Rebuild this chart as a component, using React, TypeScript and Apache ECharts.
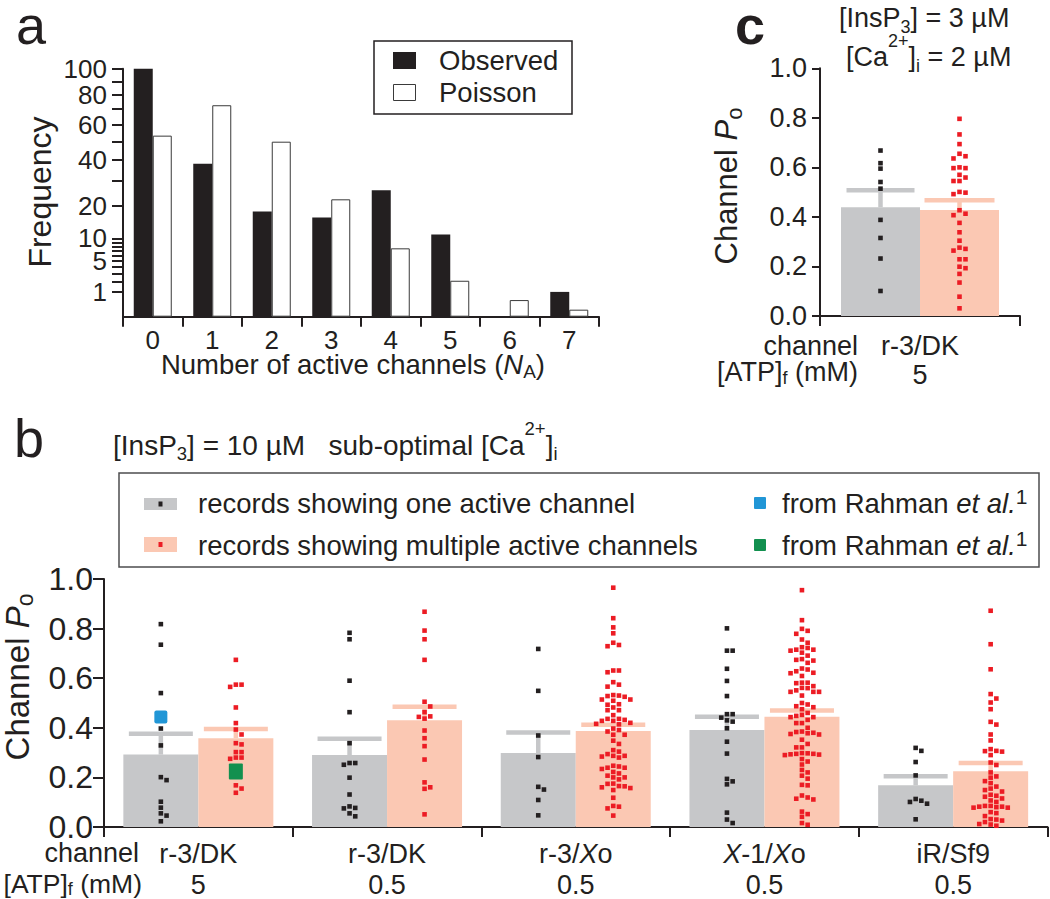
import React, { useEffect, useRef } from 'react';
import * as echarts from 'echarts';

const INK = '#231f20';
const FONT = '"Liberation Sans", Arial, Helvetica, sans-serif';
const GREY = '#c6c7c9';
const PINK = '#fbc8b3';
const RED = '#ec1c24';
const BLUE = '#2196d6';
const GREEN = '#12904f';

// ---------- Panel a ----------
const activeChannels = ['0', '1', '2', '3', '4', '5', '6', '7'];
const observedFreq = [100, 38, 18, 16, 26, 11, 0, 1];
const poissonFreq = [53.3, 72.7, 49.8, 22.4, 7.6, 2.1, 0.45, 0.08];
const freqLabelValues = [0, 1, 5, 10, 20, 40, 60, 80, 100];
const freqTickValues = [0, 1, 2, 3, 4, 5, 6, 7, 8, 9, 10, 20, 30, 40, 50, 60, 70, 80, 90, 100];

// ---------- Panel b ----------
const channelsB = ['r-3/DK', 'r-3/DK', 'r-3/Xo', 'X-1/Xo', 'iR/Sf9'];
const atpB = ['5', '0.5', '0.5', '0.5', '0.5'];
const oneMeanB = [0.292, 0.29, 0.298, 0.391, 0.168];
const oneSemB = [0.084, 0.066, 0.083, 0.054, 0.037];
const multiMeanB = [0.358, 0.43, 0.387, 0.445, 0.225];
const multiSemB = [0.037, 0.055, 0.025, 0.025, 0.033];

const oneDotsB1 = [0.818, 0.735, 0.54, 0.397, 0.329, 0.201, 0.189, 0.102, 0.078, 0.055, 0.046, 0.023];
const oneDotsB2 = [0.783, 0.757, 0.59, 0.463, 0.338, 0.258, 0.251, 0.258, 0.199, 0.131, 0.077, 0.055, 0.043, 0.075, 0.083];
const oneDotsB3 = [0.718, 0.549, 0.369, 0.282, 0.162, 0.151, 0.109, 0.047];
const oneDotsB4 = [0.801, 0.711, 0.711, 0.638, 0.589, 0.528, 0.455, 0.441, 0.425, 0.43, 0.455, 0.398, 0.344, 0.296, 0.184, 0.172, 0.194, 0.058, 0.03, 0.016];
const oneDotsB5 = [0.319, 0.307, 0.262, 0.208, 0.113, 0.101, 0.094, 0.106, 0.031];

const multiDotsB1 = [0.674, 0.574, 0.565, 0.574, 0.482, 0.419, 0.393, 0.373, 0.338, 0.333, 0.302, 0.28, 0.275, 0.28, 0.302, 0.211, 0.168, 0.155, 0.138];
const multiDotsB2 = [0.868, 0.792, 0.757, 0.674, 0.505, 0.486, 0.463, 0.444, 0.437, 0.446, 0.389, 0.358, 0.326, 0.272, 0.18, 0.16, 0.154, 0.051];
const multiDotsB3 = [0.965, 0.842, 0.805, 0.781, 0.734, 0.729, 0.743, 0.631, 0.624, 0.631, 0.574, 0.566, 0.584, 0.528, 0.514, 0.509, 0.532, 0.514, 0.525, 0.53, 0.495, 0.493, 0.482, 0.471, 0.471, 0.451, 0.436, 0.436, 0.432, 0.428, 0.42, 0.414, 0.416, 0.428, 0.397, 0.385, 0.372, 0.372, 0.391, 0.348, 0.335, 0.304, 0.287, 0.284, 0.28, 0.287, 0.294, 0.31, 0.244, 0.239, 0.234, 0.239, 0.247, 0.216, 0.2, 0.192, 0.2, 0.207, 0.222, 0.175, 0.165, 0.16, 0.149, 0.157, 0.164, 0.174, 0.118, 0.085, 0.075, 0.082, 0.046];
const multiDotsB4 = [0.955, 0.834, 0.791, 0.779, 0.799, 0.756, 0.743, 0.722, 0.715, 0.711, 0.715, 0.725, 0.703, 0.691, 0.674, 0.662, 0.671, 0.677, 0.639, 0.635, 0.628, 0.62, 0.609, 0.622, 0.582, 0.582, 0.58, 0.568, 0.56, 0.545, 0.545, 0.551, 0.561, 0.545, 0.53, 0.494, 0.483, 0.475, 0.487, 0.5, 0.46, 0.448, 0.443, 0.443, 0.452, 0.419, 0.419, 0.432, 0.4, 0.385, 0.38, 0.375, 0.373, 0.378, 0.383, 0.352, 0.335, 0.321, 0.321, 0.298, 0.295, 0.292, 0.295, 0.297, 0.29, 0.293, 0.264, 0.274, 0.252, 0.23, 0.22, 0.207, 0.195, 0.17, 0.168, 0.127, 0.114, 0.111, 0.119, 0.052, 0.041, 0.062, 0.016, 0.009];
const multiDotsB5 = [0.872, 0.737, 0.636, 0.536, 0.518, 0.502, 0.475, 0.424, 0.413, 0.373, 0.349, 0.314, 0.307, 0.304, 0.306, 0.29, 0.26, 0.25, 0.22, 0.204, 0.199, 0.177, 0.185, 0.163, 0.149, 0.143, 0.155, 0.126, 0.115, 0.101, 0.107, 0.122, 0.13, 0.082, 0.078, 0.085, 0.08, 0.078, 0.082, 0.085, 0.056, 0.044, 0.06, 0.03, 0.02, 0.01, 0.005, 0.012, 0.026, 0.032];

const rahmanBlue = 0.444; // group 1, one active channel
const rahmanGreen = 0.224; // group 1, multiple active channels

// ---------- Panel c ----------
const channelsC = ['r-3/DK'];
const atpC = ['5'];
const oneMeanC = [0.439];
const oneSemC = [0.069];
const multiMeanC = [0.428];
const multiSemC = [0.039];
const oneDotsC = [0.668, 0.617, 0.595, 0.541, 0.514, 0.388, 0.315, 0.232, 0.101];
const multiDotsC = [0.796, 0.733, 0.694, 0.645, 0.636, 0.655, 0.597, 0.597, 0.6, 0.57, 0.559, 0.545, 0.545, 0.498, 0.492, 0.501, 0.427, 0.413, 0.407, 0.376, 0.338, 0.304, 0.271, 0.264, 0.276, 0.229, 0.229, 0.199, 0.193, 0.17, 0.135, 0.078, 0.031];

// ---------- layout ----------
const GRID_A = { left: 123, top: 68.7, width: 476, height: 248 };
const GRID_B = { left: 104, top: 579, width: 943.5, height: 248 };
const GRID_C = { left: 820, top: 68.3, width: 200, height: 247.7 };
const BAR_A = 19;
const BAR_B = 75;
const BAR_C = 79;
const DOT = 4.6;

// beeswarm layout (pixel offsets) computed from values
function swarm(values: number[], pxPerUnit: number, step: number, minDy: number): number[] {
  const order = values.map((_, i) => i).sort((a, b) => values[b] - values[a]);
  const placed: { x: number; y: number }[] = [];
  const out = new Array(values.length).fill(0);
  const cands = [0];
  for (let j = 1; j < 30; j++) cands.push(j * step, -j * step);
  for (const i of order) {
    const y = values[i] * pxPerUnit;
    for (const x of cands) {
      const hit = placed.some((p) => Math.abs(p.y - y) < minDy && Math.abs(p.x - x) < step * 0.98);
      if (!hit) {
        out[i] = x;
        placed.push({ x, y });
        break;
      }
    }
  }
  return out;
}

function dotData(groups: number[][], side: number, pxPerUnit: number, step: number) {
  const res: number[][] = [];
  groups.forEach((vals, g) => {
    const offs = swarm(vals, pxPerUnit, step, 5);
    vals.forEach((v, i) => res.push([g, v, offs[i], side, DOT, DOT]));
  });
  return res;
}

const markRender = (barW: number, color: string, r = 0) => (params: any, api: any) => {
  const p = api.coord([api.value(0), api.value(1)]);
  const cx = p[0] + (api.value(3) * barW) / 2 + api.value(2);
  const w = api.value(4);
  const h = api.value(5);
  return {
    type: 'rect',
    shape: { x: cx - w / 2, y: p[1] - h / 2, width: w, height: h, r },
    style: { fill: color },
  };
};

const errRender = (barW: number, capW: number, color: string) => (params: any, api: any) => {
  const p0 = api.coord([api.value(0), api.value(1)]);
  const p1 = api.coord([api.value(0), api.value(2)]);
  const cx = p0[0] + (api.value(3) * barW) / 2;
  return {
    type: 'group',
    children: [
      { type: 'line', shape: { x1: cx, y1: p0[1], x2: cx, y2: p1[1] }, style: { stroke: color, lineWidth: 4.5 } },
      { type: 'line', shape: { x1: cx - capW / 2, y1: p1[1], x2: cx + capW / 2, y2: p1[1] }, style: { stroke: color, lineWidth: 4.5 } },
    ],
  };
};

// rich styles for graphic texts (zrender style -> fill)
function gRich(fs: number, H: number, subSize: number, subDrop: number, supSize: number, supRise: number) {
  const base = { fontSize: fs, fontFamily: FONT, fill: INK, lineHeight: H };
  return {
    n: base,
    i: { ...base, fontStyle: 'italic' },
    sub: {
      fontSize: subSize, fontFamily: FONT, fill: INK, verticalAlign: 'bottom',
      padding: [0, 0, Math.max(0, H / 2 - subSize / 2 - subDrop), 0],
    },
    sup: {
      fontSize: supSize, fontFamily: FONT, fill: INK, verticalAlign: 'top',
      padding: [Math.max(0, H / 2 - supSize / 2 - supRise), 0, 0, 0],
    },
  };
}

function T(x: number, y: number, text: string, rich: any, opts: any = {}) {
  return {
    type: 'text', x, y, rotation: opts.rot || 0, silent: true, z: 10,
    style: {
      text, rich, fontFamily: FONT, fontSize: opts.fs || 27, fill: INK,
      fontWeight: opts.bold ? 'bold' : 'normal',
      align: opts.align || 'left', verticalAlign: 'middle',
    },
  };
}

function axisRich(fs: number, lh: number) {
  const b = { fontSize: fs, fontFamily: FONT, color: INK, lineHeight: lh };
  return { n: b, i: { ...b, fontStyle: 'italic' } };
}

const fmtChannel = (c: string) => '{n|' + c.split('X').join('}{i|X}{n|') + '}';

function buildOption() {
  const line = { color: INK, width: 2 };
  const pxB = GRID_B.height;
  const pxC = GRID_C.height;
  const oneB = [oneDotsB1, oneDotsB2, oneDotsB3, oneDotsB4, oneDotsB5];
  const multiB = [multiDotsB1, multiDotsB2, multiDotsB3, multiDotsB4, multiDotsB5];
  const keysB = channelsB.map((c, i) => c + ' ' + atpB[i]);
  const keysC = channelsC.map((c, i) => c + ' ' + atpC[i]);

  const titleRichC = gRich(27, 51, 18, 9, 18, 16.5);
  const titleRichB = gRich(28, 52, 18.5, 9, 18.5, 16.5);
  const labelRich = gRich(27, 30, 18, 6, 18, 12);
  const labelRichSm = gRich(26.5, 28, 18, 5, 18, 12);
  const legRich = gRich(27.5, 36, 22, 6, 21, 7);
  const poRichB = gRich(33, 44, 23, 8, 20, 12);
  const poRichC = gRich(31, 42, 22, 8, 20, 12);
  const nRich = gRich(27.5, 34, 19, 7, 18, 12);
  const bigRich = { n: { fontSize: 54, fontFamily: FONT, fill: INK, lineHeight: 40 } };
  const bigRichBold = { n: { fontSize: 54, fontFamily: FONT, fill: INK, fontWeight: 'bold', lineHeight: 40 } };

  const valueAxisCommon = {
    type: 'value', min: 0, max: 1, interval: 0.2,
    axisLine: { show: true, lineStyle: line },
    splitLine: { show: false },
  };

  return {
    animation: false,
    backgroundColor: '#ffffff',
    grid: [GRID_A, GRID_B, GRID_C],
    xAxis: [
      {
        gridIndex: 0, type: 'category', data: activeChannels,
        axisLine: { lineStyle: line },
        axisTick: { show: true, interval: 0, length: 10, lineStyle: line },
        axisLabel: { interval: 0, fontSize: 26, lineHeight: 20, fontFamily: FONT, color: INK, margin: 13 },
        splitLine: { show: false },
      },
      {
        gridIndex: 1, type: 'category', data: keysB,
        axisLine: { lineStyle: line },
        axisTick: { show: true, interval: 0, length: 10, lineStyle: line },
        axisLabel: {
          interval: 0, margin: 11,
          formatter: (_v: string, i: number) => fmtChannel(channelsB[i]) + '\n{n|' + atpB[i] + '}',
          rich: axisRich(27, 31),
        },
        splitLine: { show: false },
      },
      {
        gridIndex: 2, type: 'category', data: keysC,
        axisLine: { lineStyle: line },
        axisTick: { show: true, interval: 0, length: 10, lineStyle: line },
        axisLabel: {
          interval: 0, margin: 15,
          formatter: (_v: string, i: number) => fmtChannel(channelsC[i]) + '\n{n|' + atpC[i] + '}',
          rich: axisRich(27, 29),
        },
        splitLine: { show: false },
      },
    ],
    yAxis: [
      {
        gridIndex: 0, type: 'value', min: 0, max: 10,
        axisLine: { show: true, lineStyle: line },
        axisTick: { show: true, length: 11, lineStyle: line, customValues: freqTickValues.map(Math.sqrt) },
        axisLabel: {
          customValues: freqLabelValues.map(Math.sqrt),
          formatter: (v: number) => String(Math.round(v * v)),
          fontSize: 26, fontFamily: FONT, color: INK, margin: 16,
        },
        splitLine: { show: false },
      },
      {
        ...valueAxisCommon, gridIndex: 1,
        axisTick: { show: true, length: 11, lineStyle: line },
        axisLabel: { formatter: (v: number) => v.toFixed(1), fontSize: 32, fontFamily: FONT, color: INK, margin: 11 },
      },
      {
        ...valueAxisCommon, gridIndex: 2,
        axisTick: { show: true, length: 8, lineStyle: line },
        axisLabel: { formatter: (v: number) => v.toFixed(1), fontSize: 27, fontFamily: FONT, color: INK, margin: 13 },
      },
    ],
    series: [
      // panel a
      {
        type: 'bar', xAxisIndex: 0, yAxisIndex: 0, name: 'Observed',
        data: observedFreq.map(Math.sqrt), barWidth: BAR_A, barGap: '0%',
        itemStyle: { color: INK },
      },
      {
        type: 'bar', xAxisIndex: 0, yAxisIndex: 0, name: 'Poisson',
        data: poissonFreq.map(Math.sqrt), barWidth: BAR_A, barGap: '0%',
        itemStyle: { color: '#ffffff', borderColor: '#3a3a3a', borderWidth: 1 },
      },
      // panel b bars
      {
        type: 'bar', xAxisIndex: 1, yAxisIndex: 1, data: oneMeanB, barWidth: BAR_B, barGap: '0%',
        itemStyle: { color: GREY }, z: 2,
      },
      {
        type: 'bar', xAxisIndex: 1, yAxisIndex: 1, data: multiMeanB, barWidth: BAR_B, barGap: '0%',
        itemStyle: { color: PINK }, z: 2,
      },
      {
        type: 'custom', xAxisIndex: 1, yAxisIndex: 1, z: 3, clip: false,
        renderItem: errRender(BAR_B, 64, GREY),
        data: oneMeanB.map((m, i) => [i, m, m + oneSemB[i], -1]),
      },
      {
        type: 'custom', xAxisIndex: 1, yAxisIndex: 1, z: 3, clip: false,
        renderItem: errRender(BAR_B, 64, PINK),
        data: multiMeanB.map((m, i) => [i, m, m + multiSemB[i], 1]),
      },
      {
        type: 'custom', xAxisIndex: 1, yAxisIndex: 1, z: 4, clip: false,
        renderItem: markRender(BAR_B, INK),
        data: dotData(oneB, -1, pxB, 5.7),
      },
      {
        type: 'custom', xAxisIndex: 1, yAxisIndex: 1, z: 4, clip: false,
        renderItem: markRender(BAR_B, RED),
        data: dotData(multiB, 1, pxB, 5.7),
      },
      {
        type: 'custom', xAxisIndex: 1, yAxisIndex: 1, z: 5, clip: false,
        renderItem: markRender(BAR_B, BLUE, 2),
        data: [[0, rahmanBlue, 0, -1, 13, 13]],
      },
      {
        type: 'custom', xAxisIndex: 1, yAxisIndex: 1, z: 5, clip: false,
        renderItem: markRender(BAR_B, GREEN, 1),
        data: [[0, rahmanGreen, 0, 1, 14, 16]],
      },
      // panel c
      {
        type: 'bar', xAxisIndex: 2, yAxisIndex: 2, data: oneMeanC, barWidth: BAR_C, barGap: '0%',
        itemStyle: { color: GREY }, z: 2,
      },
      {
        type: 'bar', xAxisIndex: 2, yAxisIndex: 2, data: multiMeanC, barWidth: BAR_C, barGap: '0%',
        itemStyle: { color: PINK }, z: 2,
      },
      {
        type: 'custom', xAxisIndex: 2, yAxisIndex: 2, z: 3, clip: false,
        renderItem: errRender(BAR_C, 68, GREY),
        data: oneMeanC.map((m, i) => [i, m, m + oneSemC[i], -1]),
      },
      {
        type: 'custom', xAxisIndex: 2, yAxisIndex: 2, z: 3, clip: false,
        renderItem: errRender(BAR_C, 70, PINK),
        data: multiMeanC.map((m, i) => [i, m, m + multiSemC[i], 1]),
      },
      {
        type: 'custom', xAxisIndex: 2, yAxisIndex: 2, z: 4, clip: false,
        renderItem: markRender(BAR_C, INK),
        data: dotData([oneDotsC], -1, pxC, 6),
      },
      {
        type: 'custom', xAxisIndex: 2, yAxisIndex: 2, z: 4, clip: false,
        renderItem: markRender(BAR_C, RED),
        data: dotData([multiDotsC], 1, pxC, 6),
      },
    ],
    graphic: [
      // panel letters
      T(16, 25, '{n|a}', bigRich),
      T(14, 438, '{n|b}', bigRich),
      T(735, 25, '{n|c}', bigRichBold),
      // panel a legend
      { type: 'rect', shape: { x: 374, y: 41, width: 198, height: 73 }, style: { fill: 'none', stroke: INK, lineWidth: 1.5 }, silent: true },
      { type: 'rect', shape: { x: 393, y: 52, width: 23, height: 17 }, style: { fill: INK }, silent: true },
      { type: 'rect', shape: { x: 393.5, y: 84.5, width: 22, height: 16 }, style: { fill: '#fff', stroke: '#3a3a3a', lineWidth: 1 }, silent: true },
      T(439, 60, '{n|Observed}', legRich),
      T(439, 92, '{n|Poisson}', legRich),
      // panel a axis names
      T(40, 192, '{n|Frequency}', { n: { fontSize: 32, fontFamily: FONT, fill: INK } }, { rot: Math.PI / 2, align: 'center' }),
      T(353, 364, '{n|Number of active channels (}{i|N}{sub|A}{n|)}', nRich, { align: 'center' }),
      // panel c titles & names
      T(839, 18, '{n|[InsP}{sub|3}{n|] = 3 µM}', titleRichC),
      T(846, 57, '{n|[Ca}{sup|2+}{n|]}{sub|i}{n| = 2 µM}', titleRichC),
      T(726, 186, '{n|Channel }{i|P}{sub|o}', poRichC, { rot: Math.PI / 2, align: 'center' }),
      T(858, 346, '{n|channel}', labelRich, { align: 'right' }),
      T(858, 372, '{n|[ATP]}{sub|f}{n| (mM)}', labelRich, { align: 'right' }),
      // panel b title
      T(113, 445, '{n|[InsP}{sub|3}{n|] = 10 µM   sub-optimal [Ca}{sup|2+}{n|]}{sub|i}', titleRichB),
      // panel b legend
      { type: 'rect', shape: { x: 119, y: 473, width: 920, height: 94 }, style: { fill: 'none', stroke: '#4d4d4f', lineWidth: 1.5 }, silent: true },
      { type: 'rect', shape: { x: 144, y: 498, width: 33, height: 12 }, style: { fill: GREY }, silent: true },
      { type: 'rect', shape: { x: 158.5, y: 501.5, width: 4, height: 5 }, style: { fill: INK }, silent: true },
      { type: 'rect', shape: { x: 144, y: 537, width: 33, height: 15 }, style: { fill: PINK }, silent: true },
      { type: 'rect', shape: { x: 158.5, y: 542, width: 4, height: 5 }, style: { fill: RED }, silent: true },
      T(198, 503, '{n|records showing one active channel}', legRich),
      T(198, 545, '{n|records showing multiple active channels}', legRich),
      { type: 'rect', shape: { x: 754, y: 497, width: 12, height: 12, r: 1 }, style: { fill: BLUE }, silent: true },
      { type: 'rect', shape: { x: 754, y: 539, width: 12, height: 12, r: 1 }, style: { fill: GREEN }, silent: true },
      T(782, 503, '{n|from Rahman }{i|et al.}{sup|1}', legRich),
      T(782, 545, '{n|from Rahman }{i|et al.}{sup|1}', legRich),
      // panel b names
      T(17, 677, '{n|Channel }{i|P}{sub|o}', poRichB, { rot: Math.PI / 2, align: 'center' }),
      T(139, 853, '{n|channel}', labelRich, { align: 'right' }),
      T(142, 884, '{n|[ATP]}{sub|f}{n| (mM)}', labelRichSm, { align: 'right' }),
    ],
  };
}

export default function App() {
  const ref = useRef<HTMLDivElement>(null);
  useEffect(() => {
    if (!ref.current) return;
    const chart = echarts.init(ref.current, null, { renderer: 'svg' });
    chart.setOption(buildOption() as any);
    return () => chart.dispose();
  }, []);
  return (
    <div
      ref={ref}
      style={{ position: 'absolute', left: 0, top: 0, width: 1050, height: 899, background: '#fff' }}
    />
  );
}
